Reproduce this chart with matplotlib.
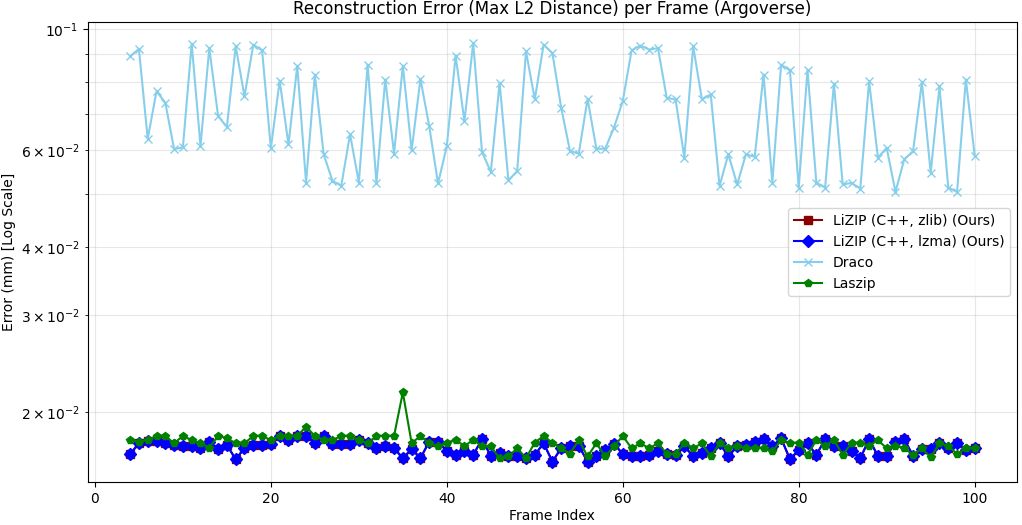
import numpy as np
import matplotlib
matplotlib.use("Agg")
import matplotlib.pyplot as plt

frames = np.arange(4, 101)

draco = [
    0.0890, 0.0919, 0.0630, 0.0769, 0.0733, 0.0603, 0.0608, 0.0939, 0.0611, 0.0922,
    0.0693, 0.0662, 0.0929, 0.0753, 0.0935, 0.0913, 0.0605, 0.0804, 0.0615, 0.0856,
    0.0524, 0.0825, 0.0590, 0.0528, 0.0517, 0.0642, 0.0524, 0.0860, 0.0523, 0.0808,
    0.0592, 0.0856, 0.0600, 0.0810, 0.0664, 0.0522, 0.0611, 0.0893, 0.0678, 0.0942,
    0.0596, 0.0548, 0.0797, 0.0529, 0.0550, 0.0909, 0.0743, 0.0935, 0.0903, 0.0718,
    0.0598, 0.0592, 0.0745, 0.0604, 0.0604, 0.0660, 0.0738, 0.0913, 0.0932, 0.0916,
    0.0922, 0.0748, 0.0743, 0.0582, 0.0929, 0.0743, 0.0759, 0.0517, 0.0590, 0.0520,
    0.0590, 0.0584, 0.0825, 0.0524, 0.0860, 0.0840, 0.0513, 0.0842, 0.0524, 0.0513,
    0.0794, 0.0520, 0.0523, 0.0511, 0.0802, 0.0582, 0.0606, 0.0504, 0.0578, 0.0598,
    0.0799, 0.0546, 0.0785, 0.0513, 0.0504, 0.0808, 0.0587,
]

lizip_lzma = [
    0.01674, 0.01753, 0.01773, 0.01773, 0.01758, 0.01738, 0.01733, 0.01729, 0.01716, 0.01760,
    0.01709, 0.01740, 0.01639, 0.01716, 0.01740, 0.01740, 0.01748, 0.01807, 0.01777, 0.01807,
    0.01807, 0.01758, 0.01807, 0.01745, 0.01745, 0.01745, 0.01777, 0.01753, 0.01716, 0.01729,
    0.01716, 0.01646, 0.01711, 0.01646, 0.01765, 0.01765, 0.01697, 0.01669, 0.01697, 0.01669,
    0.01782, 0.01662, 0.01681, 0.01662, 0.01662, 0.01646, 0.01669, 0.01753, 0.01623, 0.01716,
    0.01729, 0.01733, 0.01623, 0.01662, 0.01704, 0.01748, 0.01676, 0.01658, 0.01662, 0.01669,
    0.01693, 0.01676, 0.01669, 0.01733, 0.01658, 0.01681, 0.01716, 0.01753, 0.01658, 0.01733,
    0.01740, 0.01765, 0.01782, 0.01729, 0.01790, 0.01639, 0.01704, 0.01753, 0.01669, 0.01782,
    0.01733, 0.01733, 0.01700, 0.01646, 0.01782, 0.01662, 0.01662, 0.01765, 0.01782, 0.01662,
    0.01709, 0.01709, 0.01758, 0.01716, 0.01758, 0.01704, 0.01716,
]

# zlib variant sits right under the lzma one in the picture
lizip_zlib = list(lizip_lzma)

laszip = [
    0.01777, 0.01765, 0.01777, 0.01807, 0.01807, 0.01753, 0.01807, 0.01777, 0.01753, 0.01721,
    0.01807, 0.01790, 0.01753, 0.01753, 0.01807, 0.01807, 0.01777, 0.01807, 0.01807, 0.01807,
    0.01880, 0.01807, 0.01777, 0.01777, 0.01807, 0.01807, 0.01777, 0.01753, 0.01807, 0.01807,
    0.01807, 0.02170, 0.01753, 0.01807, 0.01753, 0.01729, 0.01758, 0.01777, 0.01733, 0.01777,
    0.01733, 0.01729, 0.01646, 0.01658, 0.01716, 0.01646, 0.01758, 0.01807, 0.01756, 0.01716,
    0.01676, 0.01777, 0.01658, 0.01753, 0.01658, 0.01731, 0.01807, 0.01716, 0.01753, 0.01716,
    0.01753, 0.01676, 0.01676, 0.01753, 0.01716, 0.01753, 0.01658, 0.01753, 0.01716, 0.01733,
    0.01716, 0.01716, 0.01716, 0.01693, 0.01777, 0.01753, 0.01758, 0.01669, 0.01777, 0.01733,
    0.01777, 0.01669, 0.01753, 0.01753, 0.01733, 0.01777, 0.01716, 0.01733, 0.01716, 0.01669,
    0.01716, 0.01651, 0.01753, 0.01733, 0.01676, 0.01716, 0.01716,
]

fig, ax = plt.subplots(figsize=(10.22, 5.25), dpi=100)
plt.subplots_adjust(left=0.086, right=0.995, top=0.958, bottom=0.081)

ax.plot(frames, lizip_zlib, color='darkred', marker='s', label='LiZIP (C++, zlib) (Ours)')
ax.plot(frames, lizip_lzma, color='blue', marker='D', label='LiZIP (C++, lzma) (Ours)')
ax.plot(frames, draco, color='skyblue', marker='x', label='Draco')
ax.plot(frames, laszip, color='green', marker='p', label='Laszip')

ax.set_yscale('log')
ax.set_title('Reconstruction Error (Max L2 Distance) per Frame (Argoverse)')
ax.set_xlabel('Frame Index', labelpad=2)
ax.set_ylabel('Error (mm) [Log Scale]')
ax.grid(True, which='both', alpha=0.3)
ax.legend(loc='center right')

plt.savefig('out.png', dpi=100)
